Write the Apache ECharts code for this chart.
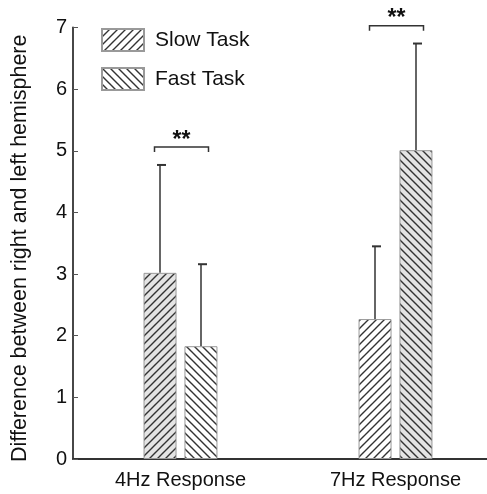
<!DOCTYPE html>
<html><head><meta charset="utf-8">
<script src="https://cdn.jsdelivr.net/npm/echarts@6/dist/echarts.min.js"></script>
<style>html,body{margin:0;padding:0;background:#fff}#c{width:487px;height:494px}</style>
</head><body><div id="c"></div>
<script>
const categories = ['4Hz Response', '7Hz Response'];
const seriesNames = ['Slow Task', 'Fast Task'];
const slowMeans = [3.02, 2.27];
const slowErrTop = [4.77, 3.45];
const fastMeans = [1.83, 5.01];
const fastErrTop = [3.16, 6.74];
const slowShaded = [true, false];
const fastShaded = [false, true];
const yTicks = [0, 1, 2, 3, 4, 5, 6, 7];
const sigBrackets = [[0, 5.06, '**'], [1, 7.03, '**']];

function hatch(dir, bg) {
  const s = 8;
  const c = document.createElement('canvas');
  c.width = s; c.height = s;
  const g = c.getContext('2d');
  g.fillStyle = bg; g.fillRect(0, 0, s, s);
  g.strokeStyle = '#333'; g.lineWidth = 1.4;
  g.beginPath();
  if (dir === '/') {
    g.moveTo(-2, s + 2); g.lineTo(s + 2, -2);
    g.moveTo(-2, 2); g.lineTo(2, -2);
    g.moveTo(s - 2, s + 2); g.lineTo(s + 2, s - 2);
  } else {
    g.moveTo(-2, -2); g.lineTo(s + 2, s + 2);
    g.moveTo(s - 2, -2); g.lineTo(s + 2, 2);
    g.moveTo(-2, s - 2); g.lineTo(2, s + 2);
  }
  g.stroke();
  return { image: c, repeat: 'repeat' };
}
const GREY = '#e4e4e4', WHITE = '#ffffff';
const BW = 33, OFF = 20.5;
const FONT = 'Liberation Sans, Arial, sans-serif';

const chart = echarts.init(document.getElementById('c'), null, { renderer: 'canvas' });

function barData(vals, shaded, dir) {
  return vals.map((v, i) => ({ value: v, itemStyle: { color: hatch(dir, shaded[i] ? GREY : WHITE) } }));
}
function errSeries(means, tops, sign) {
  return {
    type: 'custom', silent: true, z: 1, clip: false,
    data: means.map((m, i) => [i, m, tops[i]]),
    renderItem: function (params, api) {
      const b = api.coord([api.value(0), api.value(1)]);
      const t = api.coord([api.value(0), api.value(2)]);
      const x = b[0] + sign * OFF;
      return { type: 'group', children: [
        { type: 'line', shape: { x1: x, y1: b[1], x2: x, y2: t[1] }, style: { stroke: '#333', lineWidth: 1.5 } },
        { type: 'line', shape: { x1: x - 3, y1: t[1], x2: x + 6, y2: t[1] }, style: { stroke: '#333', lineWidth: 2 } }
      ]};
    }
  };
}

chart.setOption({
  animation: false,
  textStyle: { fontFamily: FONT },
  grid: { left: 73, top: 27.5, bottom: 35, width: 430, outerBoundsMode: 'none', containLabel: false },
  legend: {
    orient: 'vertical', left: 101, top: 28, itemWidth: 42, itemHeight: 22, itemGap: 15, padding: 0,
    icon: 'rect',
    textStyle: { fontSize: 21, color: '#111', padding: [0, 0, 0, 6] },
    data: seriesNames
  },
  xAxis: {
    type: 'category', data: categories,
    axisLine: { lineStyle: { color: '#333', width: 1.8 } },
    axisTick: { show: false },
    axisLabel: { fontSize: 20, color: '#111', margin: 11 }
  },
  yAxis: {
    type: 'value', min: 0, max: 7, interval: 1,
    name: 'Difference between right and left hemisphere',
    nameLocation: 'middle', nameGap: 42,
    nameTextStyle: { fontSize: 21.5, color: '#111', padding: [0, 10, 0, 0] },
    splitLine: { show: false },
    axisLine: { show: true, lineStyle: { color: '#333', width: 1.8 } },
    axisTick: { show: true, inside: true, length: 5, lineStyle: { color: '#555' } },
    axisLabel: { fontSize: 20, color: '#111', margin: 6,
      formatter: v => yTicks.indexOf(v) >= 0 ? String(v) : '' }
  },
  series: [
    { name: seriesNames[0], type: 'bar', barWidth: BW, barGap: '24%',
      itemStyle: { color: hatch('/', WHITE), borderColor: '#999', borderWidth: 1 },
      data: barData(slowMeans, slowShaded, '/') },
    { name: seriesNames[1], type: 'bar', barWidth: BW,
      itemStyle: { color: hatch('\\', WHITE), borderColor: '#999', borderWidth: 1 },
      data: barData(fastMeans, fastShaded, '\\') },
    errSeries(slowMeans, slowErrTop, -1),
    errSeries(fastMeans, fastErrTop, 1),
    {
      type: 'custom', silent: true, clip: false, z: 3,
      data: sigBrackets,
      renderItem: function (params, api) {
        const p = api.coord([api.value(0), api.value(1)]);
        const x1 = p[0] - 26, x2 = p[0] + 28, y = p[1];
        return { type: 'group', children: [
          { type: 'polyline', shape: { points: [[x1, y + 5], [x1, y], [x2, y], [x2, y + 5]] },
            style: { stroke: '#333', lineWidth: 1.5, fill: null } },
          { type: 'text', style: { text: sigBrackets[params.dataIndex][2], x: p[0] + 1, y: y + 5,
            align: 'center', verticalAlign: 'bottom', font: 'bold 23px ' + FONT, fill: '#111' } }
        ]};
      }
    }
  ]
});
</script></body></html>
